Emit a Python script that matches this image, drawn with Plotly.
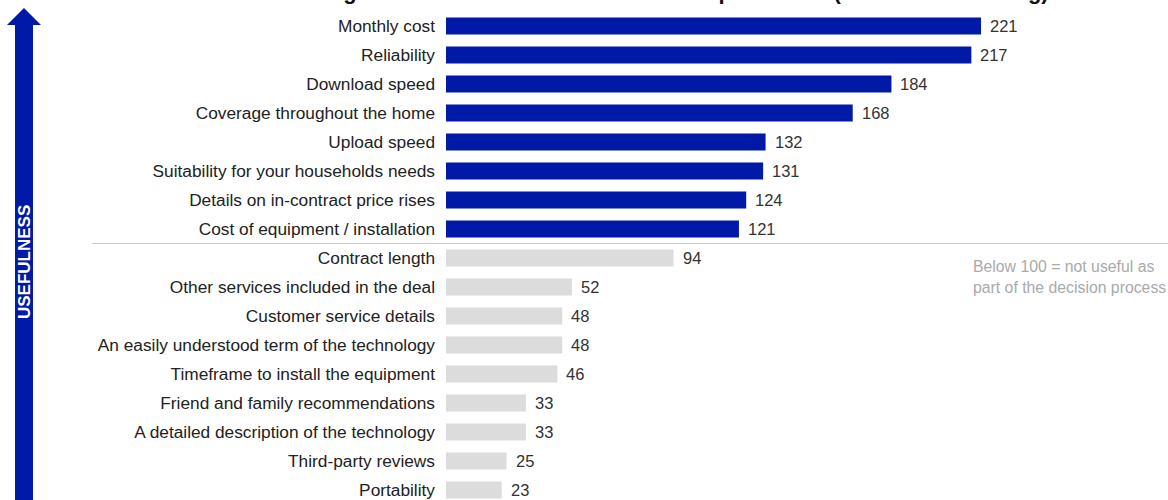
import plotly.graph_objects as go

categories = [
    "Monthly cost",
    "Reliability",
    "Download speed",
    "Coverage throughout the home",
    "Upload speed",
    "Suitability for your households needs",
    "Details on in-contract price rises",
    "Cost of equipment / installation",
    "Contract length",
    "Other services included in the deal",
    "Customer service details",
    "An easily understood term of the technology",
    "Timeframe to install the equipment",
    "Friend and family recommendations",
    "A detailed description of the technology",
    "Third-party reviews",
    "Portability",
]
values = [221, 217, 184, 168, 132, 131, 124, 121, 94, 52, 48, 48, 46, 33, 33, 25, 23]
threshold = 100
title_text = "Ranking of most useful information to compare deals (usefulness ranking)"
axis_label = "USEFULNESS"
note_text = "Below 100 = not useful as<br>part of the decision process"

BLUE = "#0019A6"
GREY = "#DCDCDC"
FONT = "Liberation Sans, Arial, sans-serif"

W, H = 1168, 500
ML = 446
PW = W - ML


def px(x):
    return (x - ML) / PW


def py(y):
    return 1 - y / H


colors = [BLUE if v >= threshold else GREY for v in values]

fig = go.Figure()
fig.add_trace(go.Bar(
    x=values,
    y=list(range(len(categories))),
    orientation="h",
    marker=dict(color=colors, line=dict(width=0)),
    width=0.59,
    hoverinfo="skip",
))

annotations = []
for i, v in enumerate(values):
    annotations.append(dict(
        x=v, y=i, xref="x", yref="y", text=str(v), showarrow=False,
        xanchor="left", yanchor="middle", xshift=7,
        font=dict(family=FONT, size=16.5, color="#333333"),
    ))

# note
annotations.append(dict(
    x=px(971), y=8.66, xref="paper", yref="y", text=note_text, showarrow=False,
    xanchor="left", yanchor="middle", align="left",
    font=dict(family=FONT, size=15.8, color="#AAAAAA"),
))
# vertical axis label in the arrow
annotations.append(dict(
    x=px(24), y=py(262), xref="paper", yref="paper", text="<b>" + axis_label + "</b>",
    showarrow=False, textangle=-90, xanchor="center", yanchor="middle",
    font=dict(family=FONT, size=17, color="white"),
))
# title (mostly cut off at the top in the reference)
annotations.append(dict(
    x=px(268), y=1.0, xref="paper", yref="paper", text="<b>" + title_text + "</b>",
    showarrow=False, xanchor="left", yanchor="bottom", yshift=-6,
    font=dict(family=FONT, size=22, color="#111111"),
))

arrow = [(15, 500), (15, 25), (7, 25), (24, 8), (41, 25), (33, 25), (33, 500)]
path = "M " + " L ".join(f"{px(a):.5f},{py(b):.5f}" for a, b in arrow) + " Z"

shapes = [
    dict(type="path", path=path, xref="paper", yref="paper",
         fillcolor=BLUE, line=dict(width=0)),
    dict(type="line", xref="paper", yref="y", x0=px(92), x1=1.0, y0=7.5, y1=7.5,
         line=dict(color="#C8C8C8", width=1)),
]

n = len(categories)
fig.update_layout(
    width=W, height=H,
    margin=dict(l=ML, r=0, t=0, b=0),
    paper_bgcolor="white", plot_bgcolor="white",
    showlegend=False,
    bargap=0.41,
    xaxis=dict(range=[0, PW / 2.421], visible=False, fixedrange=True),
    yaxis=dict(
        range=[n - 1 + 10 / 29, -26 / 29],
        tickmode="array", tickvals=list(range(n)), ticktext=categories,
        showgrid=False, zeroline=False, showline=False, ticks="",
        ticklabelstandoff=10, ticklabeloverflow="allow",
        tickfont=dict(family=FONT, size=17.3, color="#222222"),
        fixedrange=True,
    ),
    annotations=annotations,
    shapes=shapes,
)

fig.write_html("out.html")
